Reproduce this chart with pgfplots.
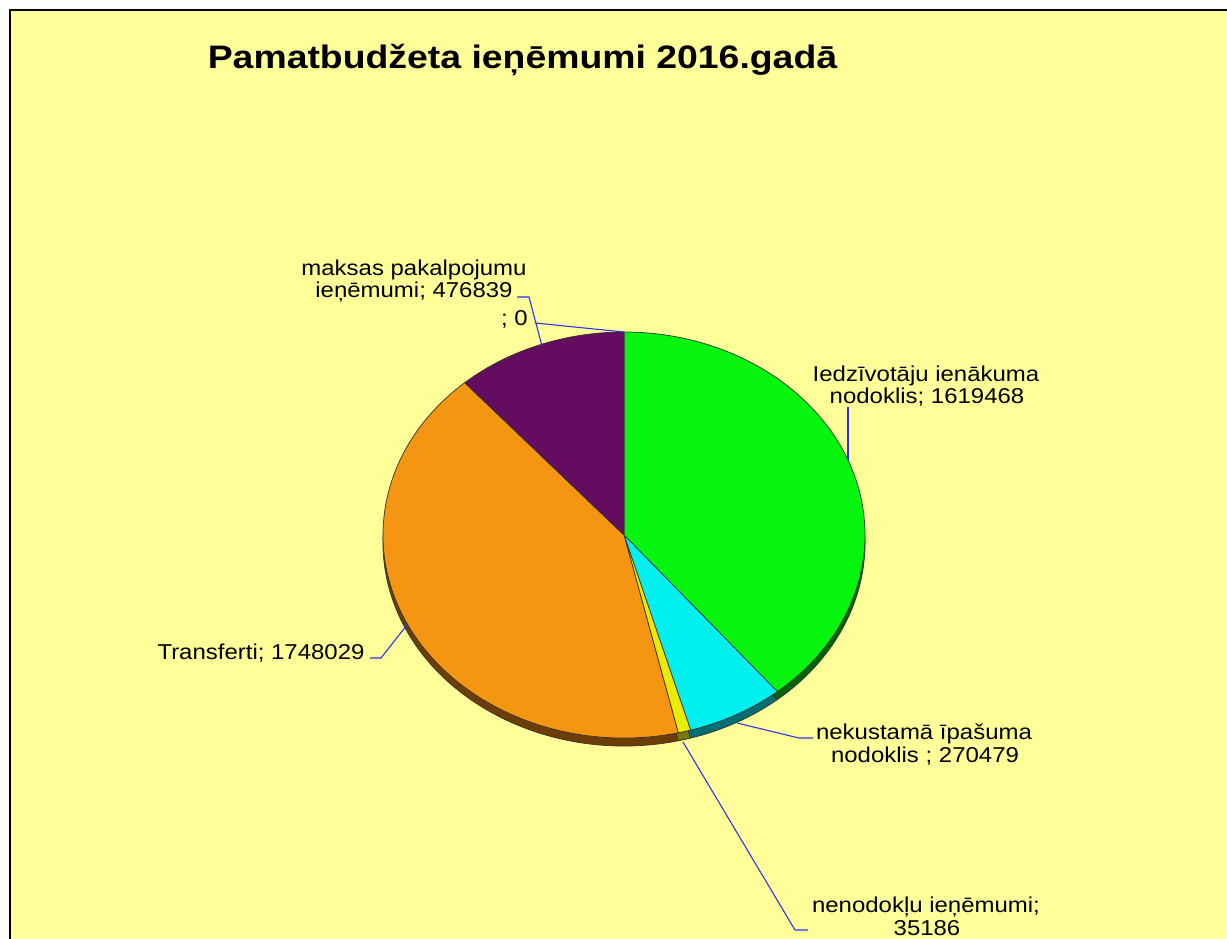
\documentclass[border=0pt]{standalone}
\usepackage{pgfplots}
\pgfplotsset{compat=1.18}
\usepackage{pgfplotstable}
\usepackage{fontspec}
\setmainfont{Liberation Sans}

\definecolor{bgyellow}{RGB}{255,255,153}
\definecolor{cGreen}{RGB}{5,245,15}
\definecolor{cCyan}{RGB}{0,240,240}
\definecolor{cYellow}{RGB}{235,235,0}
\definecolor{cOrange}{RGB}{245,150,18}
\definecolor{cPurple}{RGB}{100,12,95}
\definecolor{sGreen}{RGB}{0,100,0}
\definecolor{sCyan}{RGB}{0,110,115}
\definecolor{sYellow}{RGB}{120,120,0}
\definecolor{sOrange}{RGB}{110,60,5}
\definecolor{sPurple}{RGB}{50,5,45}
\definecolor{leader}{RGB}{50,50,235}

\pgfplotstableread{
name value
iedz 1619468
nekust 270479
nenod 35186
transf 1748029
maksas 476839
zero 0
}\piedata

\pgfplotstablegetelem{0}{value}\of\piedata \let\vA\pgfplotsretval
\pgfplotstablegetelem{1}{value}\of\piedata \let\vB\pgfplotsretval
\pgfplotstablegetelem{2}{value}\of\piedata \let\vC\pgfplotsretval
\pgfplotstablegetelem{3}{value}\of\piedata \let\vD\pgfplotsretval
\pgfplotstablegetelem{4}{value}\of\piedata \let\vE\pgfplotsretval

\pgfkeys{/pgf/fpu=true,/pgf/fpu/output format=fixed}
\pgfmathsetmacro\tot{\vA+\vB+\vC+\vD+\vE}
\pgfmathsetmacro\aO{90}
\pgfmathsetmacro\aA{\aO-360*\vA/\tot}
\pgfmathsetmacro\aB{\aA-360*\vB/\tot}
\pgfmathsetmacro\aC{\aB-360*\vC/\tot}
\pgfmathsetmacro\aD{\aC-360*\vD/\tot}
\pgfmathsetmacro\aE{\aD-360*\vE/\tot}
\pgfkeys{/pgf/fpu=false}

% pie geometry (pixels)
\def\cx{624}
\def\cy{535}
\def\rx{241}
\def\ry{203}
\def\dep{8}

% wedge: #1 fill, #2 start angle, #3 end angle, #4 y offset
\newcommand{\piewedge}[4]{%
  \filldraw[fill=#1, draw=black!80, line width=0.7pt, line join=round]
    (axis cs:\cx,{\cy+#4}) -- (axis cs:{\cx+\rx*cos(#2)},{\cy+#4-\ry*sin(#2)})
    arc[start angle=#2, end angle=#3, x radius=\rx pt, y radius=\ry pt] -- cycle;}

\newcommand{\lbl}{\fontsize{21.5}{23}\selectfont}

\begin{document}
\begin{tikzpicture}
\useasboundingbox (0,0) rectangle (1227pt,938pt);
\clip (0,0) rectangle (1227pt,938pt);
\begin{axis}[at={(0,0)}, anchor=south west, scale only axis,
  width=1227pt, height=938pt,
  xmin=0, xmax=1227, ymin=0, ymax=938, y dir=reverse,
  hide axis, clip=false]

% background and frame
\fill[white] (axis cs:0,0) rectangle (axis cs:1227,938);
\fill[bgyellow] (axis cs:10,10) rectangle (axis cs:1240,950);
\draw[black, line width=1.6pt] (axis cs:10,950) -- (axis cs:10,10) -- (axis cs:1240,10);

% title
\node[anchor=base, inner sep=0, xscale=1.15, font=\bfseries\fontsize{32.5}{38}\selectfont]
  at (axis cs:522.5,68) {Pamatbudžeta ieņēmumi 2016.gadā};

% side (depth) of the pie
\piewedge{sPurple}{\aD}{\aE}{\dep}
\piewedge{sOrange}{\aC}{\aD}{\dep}
\piewedge{sYellow}{\aB}{\aC}{\dep}
\piewedge{sCyan}{\aA}{\aB}{\dep}
\piewedge{sGreen}{\aO}{\aA}{\dep}

% top faces
\piewedge{cGreen}{\aO}{\aA}{0}
\piewedge{cCyan}{\aA}{\aB}{0}
\piewedge{cYellow}{\aB}{\aC}{0}
\piewedge{cOrange}{\aC}{\aD}{0}
\piewedge{cPurple}{\aD}{\aE}{0}

% leader lines
\addplot[leader, line width=1.1pt, no marks] coordinates {(848,407) (848,460)};
\addplot[leader, line width=1.1pt, no marks] coordinates {(517,297) (529,297) (542,346)};
\addplot[leader, line width=1.1pt, no marks] coordinates {(535,323) (624,332)};
\addplot[leader, line width=1.1pt, no marks] coordinates {(370,658) (381,658) (407,625)};
\addplot[leader, line width=1.1pt, no marks] coordinates {(737,723) (799,738) (813,738)};
\addplot[leader, line width=1.1pt, no marks] coordinates {(683,742) (795,930) (808,930)};

% labels
\node[anchor=base, inner sep=0, xscale=1.115, font=\lbl] at (axis cs:926,381.5) {Iedzīvotāju ienākuma};
\node[anchor=base, inner sep=0, xscale=1.115, font=\lbl] at (axis cs:927,403.5) {nodoklis; 1619468};
\node[anchor=base, inner sep=0, xscale=1.115, font=\lbl] at (axis cs:414,275) {maksas pakalpojumu};
\node[anchor=base, inner sep=0, xscale=1.115, font=\lbl] at (axis cs:414,297) {ieņēmumi; 476839};
\node[anchor=base east, inner sep=0, xscale=1.115, font=\lbl] at (axis cs:528,325) {; 0};
\node[anchor=base, inner sep=0, xscale=1.115, font=\lbl] at (axis cs:261,659) {Transferti; 1748029};
\node[anchor=base, inner sep=0, xscale=1.115, font=\lbl] at (axis cs:924,739) {nekustamā īpašuma};
\node[anchor=base, inner sep=0, xscale=1.115, font=\lbl] at (axis cs:925,762) {nodoklis ; 270479};
\node[anchor=base, inner sep=0, xscale=1.115, font=\lbl] at (axis cs:926,912) {nenodokļu ieņēmumi;};
\node[anchor=base, inner sep=0, xscale=1.115, font=\lbl] at (axis cs:927,935) {35186};

\end{axis}
\end{tikzpicture}
\end{document}
